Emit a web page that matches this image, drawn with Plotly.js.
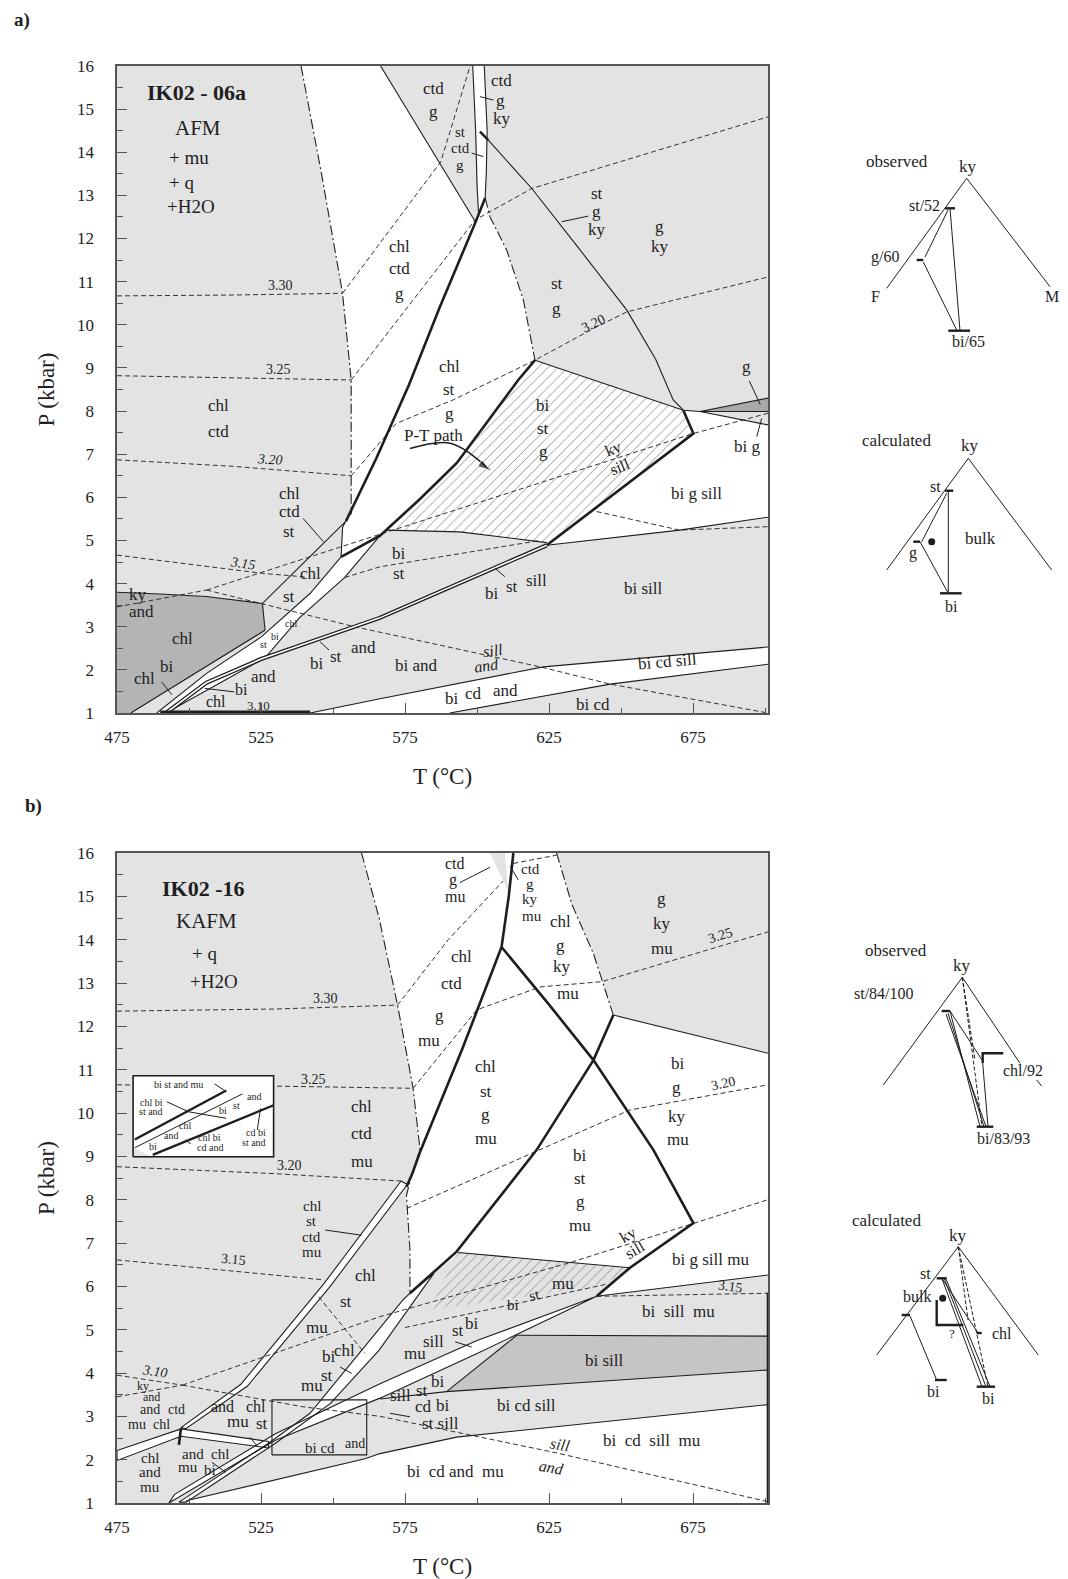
<!DOCTYPE html>
<html><head><meta charset="utf-8">
<script src="https://cdn.plot.ly/plotly-3.0.1.min.js"></script>
<style>body{margin:0;background:#fff}#chart{width:1068px;height:1579px}</style>
</head><body><div id="chart"></div>
<script>
// ---------- axis ticks ----------
const tTicks = [475, 525, 575, 625, 675];
const pTicks = [1,2,3,4,5,6,7,8,9,10,11,12,13,14,15,16];

// ---------- plot a : fields (T °C, P kbar) ----------
const aWhiteMain = [[538.9,16],[566.5,16],[599.3,12.4],[602.8,12.94],[604.5,12.5],[610.3,11.73],[616.1,10.57],[620.1,9.18],[614.3,8.72],[603,7.7],[592.9,6.79],[580,5.95],[566.3,5.11],[552.8,4.62],[553.3,5.3],[556.3,5.6],[556.3,8.72],[553.3,10.73],[546,13.5]];
const aWhiteStrip = [[598.5,16],[602.5,16],[603.5,14.5],[603.2,13.5],[602.8,12.94],[600.5,12.6],[600,14]];
const aBandL = [[552.8,4.62],[542,3.77],[525.2,2.77],[506.1,1.92],[488.8,1.0]];
const aBandR = [[566.3,5.11],[554,4.14],[538.4,3.21],[526.4,2.28],[492,1.0]];
const aDark = [[475,1],[479.8,1],[526.4,2.92],[525.5,3.54],[506,3.70],[490,3.76],[475,3.80]];
const aHatch = [[620.1,9.18],[671.6,8.02],[675.1,7.48],[624.2,4.95],[594,5.2],[568.4,5.24],[580,5.95],[592.9,6.79],[603,7.7],[614.3,8.72]];
const aWhiteBGS = [[671.6,8.02],[677.4,7.99],[701,7.68],[701,5.54],[670.3,5.24],[624.2,4.89],[675.1,7.48]];
const aWhiteCd = [[542,1],[590.5,1],[646.2,1.67],[701,2.13],[701,2.53],[623,2.07],[566.3,1.33]];
const aDarkG = [[677.4,7.99],[701,8.3],[701,7.99]];
// plot a : lines
const aThick = [
  [[602.8,12.94],[599.9,12.45],[587,10.4],[576.3,8.6],[565,6.9],[554.5,5.45]],
  [[620.1,9.18],[614.3,8.72],[603,7.7],[592.9,6.79],[580,5.95],[566.3,5.11],[552.8,4.62]],
  [[671.6,8.02],[675.1,7.48],[624.2,4.89]],
  [[601,14.48],[603.9,14.28]],
  [[490,1.03],[542,1.03]]
];
const aSolid = [
  [[566.5,16],[599.3,12.4]],
  [[598.5,16],[599.5,14.5],[600,13.2],[600.5,12.6]],
  [[602.5,16],[603.5,14.5],[603.2,13.5],[602.8,12.94]],
  [[603.9,14.28],[619,13.16],[635,11.8],[652,10.34],[662,9.2],[668.1,8.26],[671.6,8.02]],
  [[620.1,9.18],[671.6,8.02],[677.4,7.99],[701,8.3]],
  [[677.4,7.99],[701,7.99]],
  [[677.4,7.99],[701,7.68]],
  [[554.5,5.45],[540,4.5],[525.5,3.54],[526.4,2.92]],
  [[475,3.80],[490,3.76],[506,3.70],[525.5,3.54]],
  [[479.8,1],[526.4,2.92]],
  [[552.8,4.62],[553.3,5.3],[555.5,5.6]],
  [[568.4,5.24],[594,5.2],[624.2,4.95]],
  [[624.2,4.89],[670.3,5.24],[701,5.54]],
  [[542,1],[566.3,1.33],[623,2.07],[701,2.53]],
  [[590.5,1],[646.2,1.67],[701,2.13]]
];
const aDouble = [[624.2,4.89],[595,4.05],[566,3.2],[525,2.25],[506,1.7],[492,1.0]];
const aDashDot = [
  [[538.9,16],[546,13.5],[553.3,10.73],[556.3,8.72],[556.3,6.5],[556.3,5.6]],
  [[602.8,12.94],[604.5,12.5],[610.3,11.73],[616.1,10.57],[620.1,9.18]]
];
const aDashed = [
  [[553.3,10.73],[587.4,13.78],[597.6,16]],
  [[556.3,8.72],[599.3,12.43],[619,13.16],[701,14.82]],
  [[556.3,6.5],[571.9,7.71],[591.7,8.26],[620.1,9.18],[640,9.9],[652,10.3],[701,11.11]],
  [[475,10.67],[515,10.69],[553.3,10.73]],
  [[475,8.82],[530,8.75],[556.3,8.72]],
  [[475,6.87],[515,6.72],[556.3,6.5]],
  [[475,4.66],[525.2,4.24],[541,4.15]],
  [[554,4.14],[566.3,4.39],[621.9,5.0]],
  [[641.5,5.67],[670.3,5.24],[701,5.32]],
  [[475,3.46],[506.1,3.85]],
  [[506.1,3.85],[525.2,4.26],[566.3,5.14],[675.1,7.48],[701,7.95]],
  [[506.1,3.85],[557.5,3.0],[621.9,2.07],[646.2,1.67],[701,1.0]]
];
const aLeaders = [
  [[601,15.29],[605.7,15.21]],[[598.1,13.98],[602.2,13.9]],[[629.4,12.39],[638.6,12.52]],
  [[539.6,5.51],[546.7,4.97]],[[694.5,8.7],[698.3,8.15]],[[697.1,7.41],[698.8,7.83]],
  [[490.5,1.72],[494.1,1.42]],[[505.5,1.57],[515.7,1.49]],[[545.5,2.65],[548.6,2.46]],
  [[606.3,4.35],[609.7,4.16]]
];
const aPath = [[576.7,7.13],[591,7.25],[604.5,6.63]];
// labels: text, T, P, size, angle, italic
const aLabels = [
  ["<b>IK02 - 06a</b>",502.5,15.38,22],["AFM",503.2,14.56,21],["+ mu",500.1,13.87,19],["+ q",497.3,13.3,19],["+H2O",500.8,12.74,19],
  ["3.30",531.8,10.9,14],["3.25",531.2,8.97,14],["3.20",528.1,6.87,14,3,1],["3.15",518.7,4.47,14,8,1],["3.10",524,1.17,13],["3.20",640.3,10.04,14,-25],
  ["chl",573,11.81],["ctd",573,11.31],["g",573,10.73],
  ["ctd",585,15.48],["g",585,14.94],
  ["ctd",608.5,15.67],["g",608,15.2],["ky",608.5,14.79],
  ["st",594.1,14.47,15],["ctd",594.1,14.09,15],["g",594.1,13.7,15],
  ["st",641.5,13.05],["g",641.5,12.62],["ky",641.5,12.2],
  ["g",663.5,12.27],["ky",663.5,11.81],
  ["st",627.6,10.96],["g",627.6,10.38],
  ["chl",590.6,9.03],["st",590.4,8.49],["g",590.4,7.95],
  ["chl",510.3,8.14],["ctd",510.3,7.52],
  ["P-T path",585,7.44],
  ["bi",623,8.14],["st",623,7.6],["g",623,7.06],
  ["ky",647.3,7.13,16,-22],["sill",649.7,6.71,16,-22],
  ["bi g sill",676.2,6.08],
  ["g",693.6,9.03],["bi g",693.6,7.17],
  ["chl",534.8,6.09],["ctd",534.8,5.67],["st",534.8,5.2],
  ["chl",542,4.24],["st",534.8,3.7],
  ["bi",573,4.69],["st",573,4.24],
  ["bi",605.1,3.78],["st",612,3.93],["sill",620.7,4.07],
  ["bi sill",657.7,3.89],
  ["ky",482.2,3.75],["and",483.4,3.35],
  ["chl",497.7,2.73],
  ["chl",484.6,1.8],["bi",492.4,2.07],
  ["chl",535.4,3.08,10],["bi",530,2.77,10],["st",525.8,2.58,10],
  ["bi",544.3,2.15],["st",550.9,2.3],["and",560.5,2.53],
  ["bi and",579,2.11],
  ["sill",605.6,2.45,16,-8,1],["and",603.3,2.1,16,-8,1],
  ["and",525.8,1.85],["bi",518.2,1.55,16],["chl",509.2,1.26,16],
  ["bi",591.2,1.34],["cd",598.7,1.45],["and",609.7,1.53],
  ["bi cd sill",666,2.2,17,-5],
  ["bi cd",640.4,1.2]
];

// ---------- plot b ----------
const bWhiteMain = [[559.9,16],[604.5,16],[610.9,15.1],[609.7,16],[627.6,16],[633,14.8],[640.4,13.68],[647.3,12.26],[701,11.38],[701,6.26],[641.5,5.77],[653.1,6.43],[594.1,6.78],[576.7,5.84],[576.7,6.84],[575.5,8.1],[577,8.5],[580.2,9.15],[577.8,10.57],[572.4,12.49],[566,14.5]];
const bHatch = [[593.4,6.78],[653.1,6.43],[645,6.1],[635.8,5.94],[600,5.6],[583.8,5.48],[588,6.1]];
const bBand1 = [[573.6,8.43],[546.7,6.05],[518,3.74],[497.2,2.74],[499,2.72],[520.3,3.7],[549,6.0],[575.8,8.35]];
const bBand2 = [[576.7,5.84],[585,6.3],[566,4.53],[549.1,3.3],[530,2.38],[499,1.02],[496.5,1.02],[527.6,2.38],[542,3.07],[559.9,4.53],[574.2,5.68]];
const bBand3 = [[641.5,5.77],[600,4.75],[566.3,3.75],[530,2.6],[495,1.2],[493,1.0],[530,2.45],[566.3,3.42],[600,4.45]];
const bLambda = [[475,2.21],[497.2,2.71],[527.6,2.42],[527.6,2.27],[497.2,2.54],[475,1.98]];
const bWhiteBottom = [[494,1],[701,1],[701,3.27],[592.9,2.52],[566.3,2.14],[561.1,2.02],[499,1.05]];
const bDark = [[589.4,3.57],[613.8,4.87],[701,4.85],[701,4.07]];
const bThick = [
  [[612.6,16],[611,15],[608.5,13.83]],
  [[608.5,13.83],[625,12.5],[640.4,11.22],[661.2,9.15],[675.1,7.46],[653.1,6.43],[641.5,5.77]],
  [[608.5,13.83],[595,11.5],[580.2,9.1],[577.5,8.6],[575.5,8.3]],
  [[647.3,12.26],[640.4,11.22],[620.7,9.15],[602.2,7.6],[592.9,6.8],[576.7,5.84]],
  [[497.2,2.72],[496.5,2.34]],
  [[701,5.85],[701,1]]
];
const bSolid = [
  [[647.3,12.26],[701,11.38]],
  [[641.5,5.77],[701,6.26]],
  [[613.8,4.87],[701,4.85]],
  [[589.4,3.57],[701,4.07]],
  [[589.4,3.57],[613.8,4.87]],
  [[499,1.05],[561.1,2.02],[566.3,2.14],[592.9,2.52],[701,3.27]],
  [[593.4,6.78],[653.1,6.43]],
  [[566.3,3.4],[589.4,3.57]],
  [[528.8,2.11],[561.7,2.11],[561.7,3.38],[528.8,3.38],[528.8,2.11]]
];
const bDashDot = [
  [[559.9,16],[566,14.5],[572.4,12.49],[577.8,10.57],[580.2,9.15],[577,8.5],[575.5,8.1],[576.7,6.84],[576.7,5.84]],
  [[627.6,16],[633,14.8],[640.4,13.68],[647.3,12.26]]
];
const bDashed = [
  [[475,12.35],[530,12.4],[572.4,12.49]],
  [[572.4,12.49],[590,14],[609,15.35]],
  [[475,10.65],[530,10.62],[577.8,10.57]],
  [[577.8,10.57],[599.9,12.38],[621.9,12.91],[643.3,13.03],[701,14.18]],
  [[475,8.76],[530,8.6],[573.6,8.43]],
  [[575.6,7.8],[653.1,10.07],[701,10.65]],
  [[475,6.61],[546.7,6.15]],
  [[641.5,5.77],[701,5.84]],
  [[545,5.76],[561.1,4.45]],
  [[475,3.45],[497.7,3.72]],
  [[475,3.95],[497.7,3.72]],
  [[497.7,3.72],[566.3,5.3],[633.4,6.57],[675.1,7.46],[701,8.0]],
  [[497.7,3.72],[539.6,3.22],[566.3,3.0],[628,2.15],[701,1.03]],
  [[575,5.05],[610,5.55],[645,6.05]],
  [[612.6,15.76],[627.6,15.95]]
];
const bLeaders = [
  [[594.1,15.32],[604.5,15.67]],[[614.3,15.38],[611.5,15.69]],[[547.3,7.3],[559.9,7.18]],
  [[552.4,4.14],[556.5,3.99]],[[592.4,4.72],[598.1,4.6]],[[569.8,3.07],[576.7,2.99]],
  [[521.1,2.52],[524,2.29]],[[507.9,1.94],[512.7,1.71]]
];
const bLabels = [
  ["<b>IK02 -16</b>",505,15.19,22],["KAFM",506,14.44,21],["+ q",505.3,13.68,19],["+H2O",508.8,13.03,19],
  ["3.30",547.4,12.64,14],["3.25",543.2,10.78,14],["3.20",534.8,8.8,14],["3.15",515.6,6.61,14,5],["3.10",488.2,4.03,14,8,1],
  ["ctd",592.2,15.76,16],["g",591.5,15.38,16],["mu",592.2,14.99,16],
  ["ctd",618.4,15.62,15],["g",618.4,15.28,15],["ky",618.4,14.93,15],["mu",618.9,14.55,15],
  ["chl",594.6,13.61],["ctd",591,12.99],["g",586.8,12.26],["mu",583.2,11.68],
  ["chl",628.8,14.41],["g",628.8,13.87],["ky",629.4,13.38],["mu",631.7,12.76],
  ["g",664.1,14.95],["ky",664.1,14.38],["mu",664.1,13.8],
  ["3.25",684.4,14.1,14,-18],
  ["chl",559.9,10.15],["ctd",559.9,9.53],["mu",559.9,8.88],
  ["chl",603,11.07],["st",603,10.5],["g",603,9.96],["mu",603,9.42],
  ["bi",669.9,11.14],["g",669.3,10.6],["ky",669.3,9.91],["mu",669.9,9.38],
  ["3.20",685.5,10.68,14,-12],
  ["bi",635.8,9.03],["st",635.8,8.49],["g",635.8,7.95],["mu",635.8,7.41],
  ["ky",652.5,7.18,16,-30],["sill",654.9,6.84,16,-30],
  ["bi g sill mu",680.9,6.61],
  ["3.15",687.9,5.99,14,8],
  ["bi  sill  mu",669.9,5.41],
  ["bi sill",644.4,4.3],
  ["bi cd sill",617.3,3.26],
  ["bi  cd  sill  mu",660.6,2.45],
  ["sill",628.8,2.34,16,10,1],["and",625.9,1.83,16,10,1],
  ["bi  cd and  mu",592.4,1.72],
  ["mu",630,6.07],["st",620.1,5.8,15,-15],["bi",612.6,5.57,15],
  ["st",593.5,4.99],["bi",598.1,5.14],["sill",584.8,4.72],["mu",578.5,4.45],
  ["sill",573.3,3.49],["st",580.8,3.6],["bi",586.6,3.8],
  ["cd",581.3,3.22],["bi",588.3,3.26],["st sill",587.2,2.84],
  ["chl",542.6,7.86,15],["st",542.6,7.5,15],["ctd",542.6,7.15,15],["mu",542.6,6.79,15],
  ["chl",561.1,6.26],["st",554.5,5.65],["mu",544.3,5.06],
  ["bi",548.5,4.37],["chl",554,4.53],["st",547.9,3.95],["mu",542.6,3.72],
  ["ky",484,3.71,12],["and",487,3.44,12],
  ["and",486.5,3.16,14],["ctd",495.8,3.16,14],["mu",481.8,2.82,14],["chl",490.6,2.82,14],
  ["chl",486.4,2.03,15],["and",486.6,1.72,15],["mu",486.4,1.37,15],
  ["and",501.3,2.14,15],["chl",510.9,2.14,15],["mu",499.5,1.84,15],["bi",507.3,1.76,15],
  ["and",511.6,3.22,16],["chl",523.4,3.22,16],["mu",516.9,2.88],["st",525.2,2.84],
  ["bi cd",545.5,2.26,15],["and",557.5,2.37,14]
];

// ---------- inset of plot b (unit square) ----------
const insThick = [[[0.012,0.214],[0.663,0.819]],[[0.14,0.024],[1.0,0.637]]];
const insThin = [[[0.012,0.113],[0.779,0.778]],[[0.395,0.556],[0.663,0.476]],[[0.24,0.68],[0.395,0.556]],[[0.581,0.899],[0.651,0.819]],[[0.884,0.335],[0.907,0.597]],[[0.37,0.21],[0.41,0.16]]];
const insGray = [[0,0],[0,0.11],[0.14,0]];
const insLabels = [["bi st and mu",0.326,0.899],["chl bi",0.128,0.677],["st and",0.128,0.556],["and",0.86,0.74],["st",0.733,0.637],["bi",0.64,0.577],["chl",0.372,0.387],["and",0.267,0.262],["bi",0.14,0.125],["chl bi",0.547,0.234],["cd and",0.547,0.11],["cd bi",0.872,0.302],["st and",0.86,0.173]];

// ---------- AFM diagrams (drawing units) ----------
const dFrames = [
  [[886.7,288.3],[966.7,178.3],[1050,286.7]],
  [[886.7,570],[968.3,458.3],[1051.7,570]],
  [[883.3,1085],[962.3,977.3],[1020,1063.3]],
  [[876.7,1355],[958.3,1246.7],[1038.3,1355]]
];
const dTicks = [
  [[945,208.3],[955,208.3]],[[916.7,260],[923.3,260]],[[948.3,330.7],[970,330.7]],
  [[945,490.7],[953.3,490.7]],[[913.3,541.7],[920,541.7]],[[940,593.3],[961.7,593.3]],
  [[941.7,1011],[950,1011]],[[982.7,1063],[982.7,1053.3],[1003.3,1053.3]],[[976.7,1126.7],[993.3,1126.7]],
  [[936.7,1278.3],[946.7,1278.3]],[[901.7,1315],[910,1315]],[[936.7,1300],[936.7,1325],[963.3,1325]],[[976.7,1333],[981.7,1333]],[[935,1380],[946.7,1380]],[[976.7,1386.7],[995,1386.7]]
];
const dTies = [
  [[950,208.3],[960,330.7]],[[948,210],[925,257]],[[923.3,262],[957,330.7]],
  [[948.3,490.7],[948.3,593.3]],[[946.7,493.3],[921.7,541.7]],[[920,541.7],[948.3,593.3]],
  [[950,1011],[980,1126.7]],[[948,1013],[984,1126.7]],[[946,1014],[986,1126.7]],[[950,1011],[982.7,1061]],[[982.7,1063],[988,1126.7]],[[1036.7,1080],[1041.7,1086]],
  [[941.7,1278],[982,1386.7]],[[944,1278],[986,1386.7]],[[946,1279],[990,1386.7]],[[910,1316],[936.7,1380]],[[941.7,1278],[978,1333]]
];
const dDashTies = [[[962.3,977.3],[982,1126.7]],[[962.3,977.3],[975,1060]],[[958.3,1246.7],[988,1386.7]],[[958.3,1246.7],[968,1320]]];
const dDots = [[931.7,541.7],[942.7,1298.3]];
const dLabels = [
  ["observed",896.7,161.7,17],["ky",968.3,166.7,17],["st/52",924,205,16],["g/60",885,256.7,16],["F",875,296.7,16],["M",1051.7,296.7,16],["bi/65",968,341.7,16],
  ["calculated",896.7,440,17],["ky",970,445,17],["st",935,486.7,16],["g",913.3,553.3,16],["bulk",980,538.3,17],["bi",951.7,606.7,16],
  ["observed",896,950,17],["ky",962.3,965,17],["st/84/100",884,993.3,16],["chl/92",1022.5,1070,16],["bi/83/93",1003,1138.3,16],
  ["calculated",886.7,1220,17],["ky",958.3,1235,17],["st",925,1273.3,16],["bulk",916.7,1296.7,16],["?",951.7,1333.3,13],["chl",1001.7,1333.3,16],["bi",933.3,1391.7,16],["bi",988.3,1398.3,16]
];

// ================= build =================
const GRAY = '#e3e3e3', INK = '#1e1e1e';
const FONT = 'Liberation Serif, Times New Roman, serif';
const traces = [], ann = [];
const X = p => p.map(q => q[0]), Y = p => p.map(q => q[1]);
function poly(pts, color, xa, ya, pat) {
  const t = {type:'scatter', mode:'lines', x:X(pts).concat([pts[0][0]]), y:Y(pts).concat([pts[0][1]]),
    fill:'toself', fillcolor:color, line:{width:0, color:color}, xaxis:xa, yaxis:ya, hoverinfo:'skip', showlegend:false};
  if (pat) t.fillpattern = pat;
  traces.push(t);
}
function ln(pts, w, dash, xa, ya, color, shape) {
  traces.push({type:'scatter', mode:'lines', x:X(pts), y:Y(pts), line:{width:w, dash:dash||'solid', color:color||INK, shape:shape||'linear'},
    xaxis:xa, yaxis:ya, hoverinfo:'skip', showlegend:false});
}
function labels(list, xr, yr, def) {
  list.forEach(l => {
    let txt = l[0]; if (l[5]) txt = '<i>' + txt + '</i>';
    ann.push({xref:xr, yref:yr, x:l[1], y:l[2], text:txt, showarrow:false, textangle:l[4]||0,
      xanchor:'center', yanchor:'middle', font:{family:FONT, size:l[3]||def, color:INK}});
  });
}
const DASH = '5px,3px', DDOT = '10px,3px,2px,3px';
const hatch = {shape:'/', fgcolor:'#8d8d8d', bgcolor:'#ffffff', size:7, solidity:0.13};

// plot a
poly(aWhiteMain,'#ffffff','x','y');
poly(aWhiteStrip,'#ffffff','x','y');
poly(aBandL.concat(aBandR.slice().reverse()),'#ffffff','x','y');
poly(aDark,'#b4b4b4','x','y');
poly(aHatch,'#ffffff','x','y',hatch);
poly(aWhiteBGS,'#ffffff','x','y');
poly(aWhiteCd,'#ffffff','x','y');
poly(aDarkG,'#a9a9a9','x','y');
aDashed.forEach(s => ln(s,1,DASH,'x','y','#333'));
aDashDot.forEach(s => ln(s,1.1,DDOT,'x','y','#222'));
aSolid.forEach(s => ln(s,1.1,'solid','x','y'));
ln(aBandL,1.1,'solid','x','y'); ln(aBandR,1.1,'solid','x','y');
ln(aDouble,4.2,'solid','x','y'); ln(aDouble,1.6,'solid','x','y','#ffffff');
aLeaders.forEach(s => ln(s,1,'solid','x','y'));
aThick.forEach(s => ln(s,2.6,'solid','x','y'));
traces.push({type:'scatter', mode:'lines+markers', x:X(aPath), y:Y(aPath), line:{width:1.6, color:INK, shape:'spline'},
  marker:{symbol:'arrow', size:[0,0,13], angleref:'previous', color:INK}, xaxis:'x', yaxis:'y', hoverinfo:'skip', showlegend:false});
labels(aLabels,'x','y',17);

// plot b
poly(bWhiteMain,'#ffffff','x2','y2');
poly(bHatch,GRAY,'x2','y2',{shape:'/', fgcolor:'#8d8d8d', bgcolor:GRAY, size:7, solidity:0.13});
poly(bWhiteBottom,'#ffffff','x2','y2');
poly(bDark,'#c5c5c5','x2','y2');
[bBand1,bBand2,bBand3,bLambda].forEach(b => poly(b,'#ffffff','x2','y2'));
bDashed.forEach(s => ln(s,1,DASH,'x2','y2','#333'));
bDashDot.forEach(s => ln(s,1.1,DDOT,'x2','y2','#222'));
bSolid.forEach(s => ln(s,1.1,'solid','x2','y2'));
[bBand1,bBand2,bBand3,bLambda].forEach(b => ln(b.concat([b[0]]),1.1,'solid','x2','y2'));
bLeaders.forEach(s => ln(s,1,'solid','x2','y2'));
bThick.forEach(s => ln(s,2.6,'solid','x2','y2'));
labels(bLabels,'x2','y2',17);

// diagrams
dFrames.forEach(s => ln(s,1,'solid','x3','y3'));
dTies.forEach(s => ln(s,1,'solid','x3','y3'));
dDashTies.forEach(s => ln(s,1,'4px,2px','x3','y3'));
dTicks.forEach(s => ln(s,2.4,'solid','x3','y3'));
traces.push({type:'scatter', mode:'markers', x:X(dDots), y:Y(dDots), marker:{size:7, color:INK}, xaxis:'x3', yaxis:'y3', hoverinfo:'skip', showlegend:false});
labels(dLabels,'x3','y3',16);

// inset
poly([[0,0],[1,0],[1,1],[0,1]],'#ffffff','x4','y4');
poly(insGray,GRAY,'x4','y4');
insThin.forEach(s => ln(s,1,'solid','x4','y4'));
insThick.forEach(s => ln(s,2.4,'solid','x4','y4'));
ln([[0,0],[1,0],[1,1],[0,1],[0,0]],1.6,'solid','x4','y4');
insLabels.forEach(l => ann.push({xref:'x4', yref:'y4', x:l[1], y:l[2], text:l[0], showarrow:false, xanchor:'center', yanchor:'middle', font:{family:FONT, size:10, color:INK}}));

// panel letters
ann.push({xref:'paper', yref:'paper', x:22/1068, y:1-20/1579, xanchor:'center', yanchor:'middle', text:'<b>a)</b>', showarrow:false, font:{family:FONT, size:19, color:INK}});
ann.push({xref:'paper', yref:'paper', x:33/1068, y:1-806/1579, xanchor:'center', yanchor:'middle', text:'<b>b)</b>', showarrow:false, font:{family:FONT, size:19, color:INK}});

const axBase = {showline:true, mirror:true, linecolor:'#555', linewidth:1.6, ticks:'inside', ticklen:10, tickwidth:1, tickcolor:'#555',
  showgrid:false, zeroline:false, tickfont:{family:FONT, size:17, color:'#222'}, fixedrange:true};
const xDom = [117/1068, 768/1068];
function xAx(anchor){ return Object.assign({}, axBase, {domain:xDom, range:[475,701], tickvals:tTicks, anchor:anchor,
  minor:{ticks:'inside', ticklen:5, tickvals:[500,550,600,650,700], tickcolor:'#555'}, ticklabelstandoff:8,
  title:{text:'T (°C)', font:{family:FONT, size:23, color:'#222'}, standoff:22}}); }
function yAx(dom, anchor){ return Object.assign({}, axBase, {domain:dom, range:[1,16], tickvals:pTicks, anchor:anchor,
  minor:{ticks:'inside', ticklen:6, dtick:0.5, tickcolor:'#555'}, ticklabelstandoff:18,
  title:{text:'P (kbar)', font:{family:FONT, size:23, color:'#222'}, standoff:16}}); }
const hid = {visible:false, fixedrange:true, showgrid:false, zeroline:false};
const layout = {
  width:1068, height:1579, margin:{l:0, r:0, t:0, b:0}, paper_bgcolor:'#ffffff', plot_bgcolor:'rgba(0,0,0,0)', showlegend:false,
  xaxis:xAx('y'), yaxis:yAx([1-713/1579, 1-66/1579],'x'),
  xaxis2:xAx('y2'), yaxis2:yAx([1-1503/1579, 1-853/1579],'x2'),
  xaxis3:Object.assign({}, hid, {domain:[780/1068,1], range:[780,1068], anchor:'y3'}),
  yaxis3:Object.assign({}, hid, {domain:[0,1], range:[1579,0], anchor:'x3'}),
  xaxis4:Object.assign({}, hid, {domain:[131.7/1068, 275/1068], range:[-0.01,1.01], anchor:'y4'}),
  yaxis4:Object.assign({}, hid, {domain:[1-1157.7/1579, 1-1075/1579], range:[-0.01,1.01], anchor:'x4'}),
  shapes:[
    {type:'rect', xref:'x domain', yref:'y domain', x0:0, x1:1, y0:0, y1:1, fillcolor:GRAY, line:{width:0}, layer:'below'},
    {type:'rect', xref:'x2 domain', yref:'y2 domain', x0:0, x1:1, y0:0, y1:1, fillcolor:GRAY, line:{width:0}, layer:'below'}
  ],
  annotations:ann
};
Plotly.newPlot('chart', traces, layout, {staticPlot:true, displayModeBar:false});
</script></body></html>
